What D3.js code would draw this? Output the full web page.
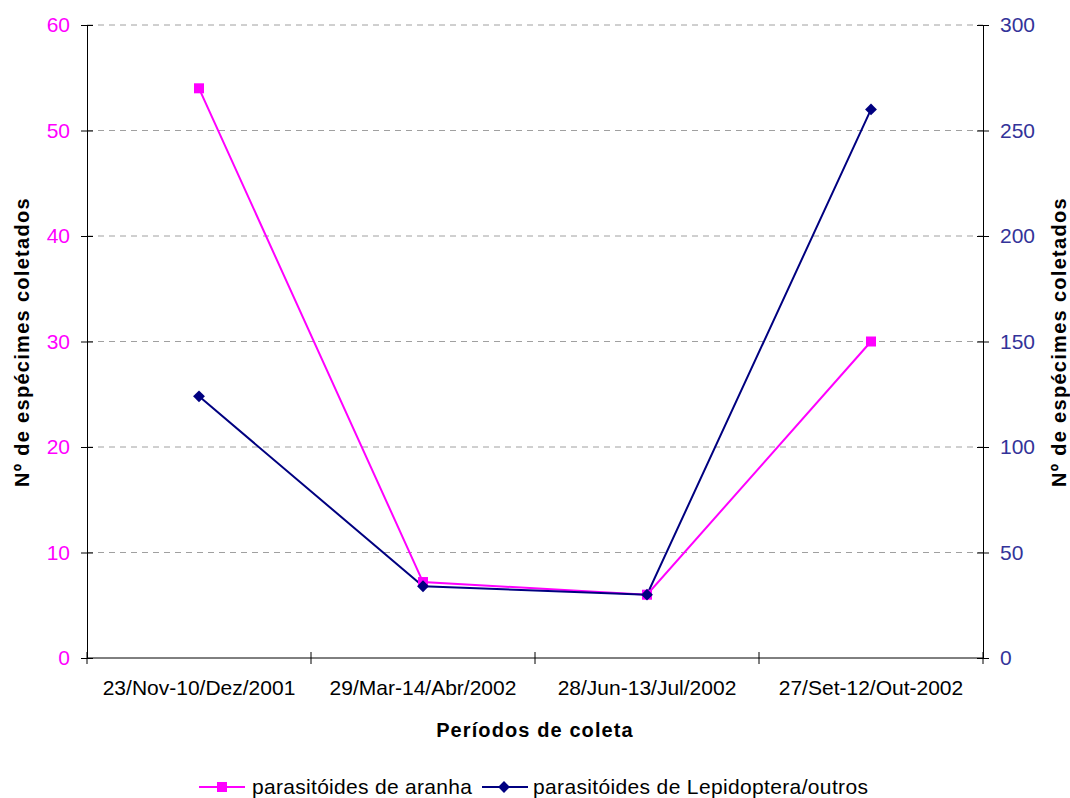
<!DOCTYPE html>
<html><head><meta charset="utf-8">
<script src="https://cdn.jsdelivr.net/npm/d3@7"></script>
<style>body{margin:0;background:#fff}svg{display:block}text{font-family:"Liberation Sans",Arial,sans-serif}</style>
</head><body>
<svg id="c" width="1070" height="798"></svg>
<script>
const categories = ["23/Nov-10/Dez/2001","29/Mar-14/Abr/2002","28/Jun-13/Jul/2002","27/Set-12/Out-2002"];
const aranha = [54, 7.2, 6, 30];
const lepidoptera = [124, 34, 30, 260];
const leftTicks = [0,10,20,30,40,50,60];
const rightTicks = [0,50,100,150,200,250,300];
const seriesNames = ["parasitóides de aranha","parasitóides de Lepidoptera/outros"];

const svg = d3.select("#c");
const L = 87, R = 983, T = 25, B = 658;
const x = d3.scaleBand().domain(categories).range([L, R]).paddingInner(0).paddingOuter(0);
const yL = d3.scaleLinear().domain([0,60]).range([B, T]);
const yR = d3.scaleLinear().domain([0,300]).range([B, T]);
const cx = c => x(c) + x.bandwidth()/2;

// gridlines
svg.append("g").selectAll("line").data(leftTicks.filter(d=>d>0)).join("line")
  .attr("x1", L).attr("x2", R).attr("y1", d=>yL(d)).attr("y2", d=>yL(d))
  .attr("stroke", "#a0a0a0").attr("stroke-width", 1).attr("stroke-dasharray", "6,5");

// left axis
const gl = svg.append("g").attr("transform", `translate(${L},0)`)
  .call(d3.axisLeft(yL).tickValues(leftTicks).tickSize(6).tickPadding(11));
gl.selectAll(".tick line").attr("x2", 6).attr("x1",-6);
gl.selectAll("text").attr("fill", "#FF00FF").style("font-size", "21px");
gl.select(".domain").attr("stroke", "#000");
gl.selectAll(".tick line").attr("stroke", "#000");

// right axis
const gr = svg.append("g").attr("transform", `translate(${R},0)`)
  .call(d3.axisRight(yR).tickValues(rightTicks).tickSize(6).tickPadding(11));
gr.selectAll(".tick line").attr("x1", -6).attr("x2", 6);
gr.selectAll("text").attr("fill", "#333399").style("font-size", "21px");
gr.select(".domain").attr("stroke", "#000");
gr.selectAll(".tick line").attr("stroke", "#000");

// bottom axis
svg.append("line").attr("x1", L).attr("x2", R).attr("y1", B).attr("y2", B).attr("stroke", "#000");
const edges = categories.map(c => x(c)).concat([x(categories[categories.length-1]) + x.bandwidth()]);
svg.append("g").selectAll("line").data(edges).join("line")
  .attr("x1", d=>d).attr("x2", d=>d).attr("y1", B-6).attr("y2", B+6).attr("stroke", "#000");
svg.append("g").selectAll("text").data(categories).join("text")
  .attr("x", d=>cx(d)).attr("y", B+37).attr("text-anchor","middle")
  .style("font-size","21px").attr("fill","#000").text(d=>d);

// titles
svg.append("text").attr("x", 535).attr("y", 737).attr("text-anchor","middle")
  .style("font-size","20px").style("font-weight","bold").style("letter-spacing","1.1px").text("Períodos de coleta");
svg.append("text").attr("transform","translate(29,342) rotate(-90)").attr("text-anchor","middle")
  .style("font-size","20px").style("font-weight","bold").style("letter-spacing","1.3px").text("Nº de espécimes coletados");
svg.append("text").attr("transform","translate(1066,342) rotate(-90)").attr("text-anchor","middle")
  .style("font-size","20px").style("font-weight","bold").style("letter-spacing","1.3px").text("Nº de espécimes coletados");

// lines
const lineL = d3.line().x((d,i)=>cx(categories[i])).y(d=>yL(d));
const lineR = d3.line().x((d,i)=>cx(categories[i])).y(d=>yR(d));
svg.append("path").datum(aranha).attr("d", lineL).attr("fill","none").attr("stroke","#FF00FF").attr("stroke-width",2);
svg.append("path").datum(lepidoptera).attr("d", lineR).attr("fill","none").attr("stroke","#000080").attr("stroke-width",2);

svg.append("g").selectAll("rect").data(aranha).join("rect")
  .attr("x",(d,i)=>cx(categories[i])-5).attr("y",d=>yL(d)-5).attr("width",10).attr("height",10).attr("fill","#FF00FF");
const diamond = d3.symbol().type(d3.symbolSquare).size(70);
svg.append("g").selectAll("path").data(lepidoptera).join("path")
  .attr("d", diamond).attr("transform",(d,i)=>`translate(${cx(categories[i])},${yR(d)}) rotate(45)`).attr("fill","#000080");

// legend
const ly = 787;
svg.append("line").attr("x1",199).attr("x2",245).attr("y1",ly).attr("y2",ly).attr("stroke","#FF00FF").attr("stroke-width",2);
svg.append("rect").attr("x",217).attr("y",ly-5).attr("width",10).attr("height",10).attr("fill","#FF00FF");
svg.append("text").attr("x",252).attr("y",ly+7).style("font-size","21px").style("letter-spacing","0.3px").text(seriesNames[0]);
svg.append("line").attr("x1",482).attr("x2",528).attr("y1",ly).attr("y2",ly).attr("stroke","#000080").attr("stroke-width",2);
svg.append("path").attr("d",diamond).attr("transform",`translate(504,${ly}) rotate(45)`).attr("fill","#000080");
svg.append("text").attr("x",533).attr("y",ly+7).style("font-size","21px").style("letter-spacing","0.35px").text(seriesNames[1]);
</script>
</body></html>
